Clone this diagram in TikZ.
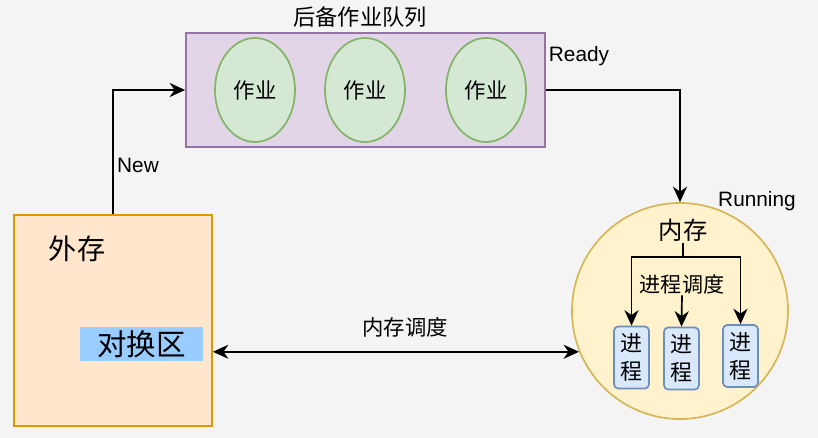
\documentclass[tikz,border=0pt]{standalone}
\usepackage{fontspec}
\setmainfont{Liberation Sans}
\newfontfamily\cjk{Noto Sans CJK SC}
\usetikzlibrary{arrows.meta,positioning,shapes.geometric}
\definecolor{bg}{HTML}{F4F4F4}
\definecolor{qfill}{HTML}{E1D5E7}
\definecolor{qline}{HTML}{9673A6}
\definecolor{jfill}{HTML}{D5E8D4}
\definecolor{jline}{HTML}{82B366}
\definecolor{mfill}{HTML}{FFF2CC}
\definecolor{mline}{HTML}{D6B656}
\definecolor{pfill}{HTML}{DAE8FC}
\definecolor{pline}{HTML}{6C8EBF}
\definecolor{efill}{HTML}{FFE6CC}
\definecolor{eline}{HTML}{D79B00}
\definecolor{swapblue}{HTML}{99CCFF}

\begin{document}
\begin{tikzpicture}[x=0.025cm,y=-0.025cm,font=\cjk\fontsize{15.2pt}{17pt}\selectfont,
  queue/.style={draw=qline,fill=qfill,line width=1.2pt,minimum width=8.975cm,minimum height=2.85cm},
  job/.style={ellipse,draw=jline,fill=jfill,line width=1.2pt,minimum width=2cm,minimum height=2.6cm,inner sep=0pt},
  proc/.style={draw=pline,fill=pfill,line width=1.2pt,rounded corners=3pt,minimum width=0.875cm,minimum height=1.55cm,inner sep=0pt,align=center,font=\cjk\fontsize{15.6pt}{20pt}\selectfont},
  big/.style={font=\cjk\fontsize{17.3pt}{20pt}\selectfont},
  lat/.style={font=\fontsize{14.8pt}{16pt}\selectfont},
  ar/.style={-{Stealth[length=11pt,width=10pt,inset=3.5pt]},line width=1.2pt},
  ar2/.style={{Stealth[length=11pt,width=10pt,inset=3.5pt]}-{Stealth[length=11pt,width=10pt,inset=3.5pt]},line width=1.2pt},
  ln/.style={line width=1.2pt}]

\fill[bg] (0,0) rectangle (818,438);

% backup queue
\node[queue] (queue) at (365.5,90) {};
\node[font=\cjk\fontsize{15.8pt}{18pt}\selectfont] (qtitle) at (360,17) {后备作业队列};
\node[job] (j1) at (255,90) {作业};
\node[job] (j2) at (365,90) {作业};
\node[job] (j3) at (486,90) {作业};
\node[lat] (ready) at (579,56) {Ready};

% memory
\node[circle,draw=mline,fill=mfill,line width=1.2pt,minimum size=5.4cm,inner sep=0pt] (mem) at (680,311) {};
\node[lat] (running) at (757,201) {Running};
\node[big,inner sep=1pt] (memlbl) at (683,230) {内存};
\coordinate (fork) at (683,257);
\node[font=\cjk\fontsize{15pt}{16pt}\selectfont,inner sep=1pt] (sched) at (682,284) {进程调度};
\node[proc] (p1) at (631.5,357.5) {进\\程};
\node[proc] (p2) at (681.5,358.5) {进\\程};
\node[proc] (p3) at (740.5,356) {进\\程};
\draw[ln] (memlbl.south) -- (fork);
\draw[ar] (fork) -| (p1.north);
\draw[ar] (fork) -| (p3.north);
\draw[ar] (sched.south) -- (p2.north);

% external storage
\node[draw=eline,fill=efill,line width=1.2pt,minimum width=4.95cm,minimum height=5.275cm] (ext) at (113,320.5) {};
\node[font=\cjk\fontsize{20pt}{22pt}\selectfont] (extlbl) at (77,249) {外存};
\node[fill=swapblue,minimum width=3.075cm,minimum height=0.85cm,inner sep=0pt,font=\cjk\fontsize{21pt}{22pt}\selectfont] (swap) at (141.5,344) {对换区};

% transitions
\draw[ar] (ext.north) |- (queue.west);
\node[lat] (new) at (138,165) {New};
\draw[ar] (queue.east) -| (mem.north);
\draw[ar2] (ext.east |- mem.202) -- (mem.202);
\node (mswap) at (405,327) {内存调度};
\end{tikzpicture}
\end{document}
